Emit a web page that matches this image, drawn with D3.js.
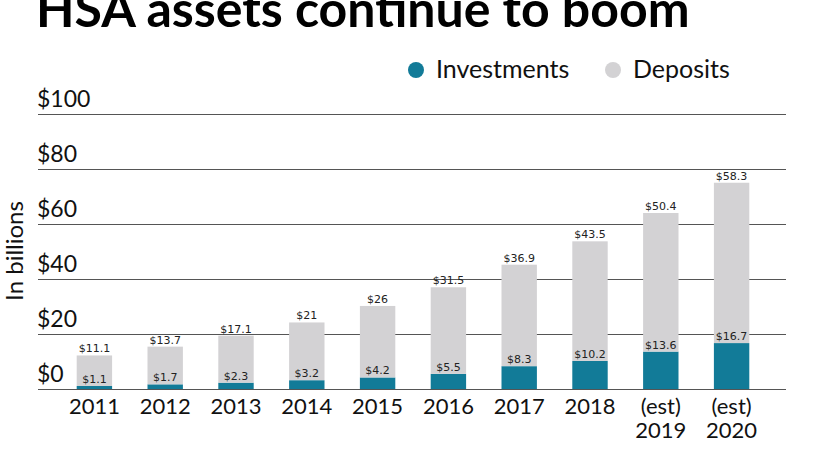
<!DOCTYPE html>
<html>
<head>
<meta charset="utf-8">
<script src="https://cdn.jsdelivr.net/npm/d3@7"></script>
<style>
    body { margin: 0; background: #fff; }
    svg { display: block; font-family: 'Lato', sans-serif; }
</style>
</head>
<body>
<div id="vis"></div>
<script>
const YEARS = ['2011', '2012', '2013', '2014', '2015', '2016', '2017', '2018', '2019', '2020']
const ESTIMATED = ['2019', '2020']
const INVESTMENTS = [1.1, 1.7, 2.3, 3.2, 4.2, 5.5, 8.3, 10.2, 13.6, 16.7]
const DEPOSITS = [11.1, 13.7, 17.1, 21, 26, 31.5, 36.9, 43.5, 50.4, 58.3]
const Y_TICKS = [0, 20, 40, 60, 80, 100]

const COLORS = {
    investments: '#127b98',
    deposits: '#d3d2d4'
}

function renderSvg() {
    return d3.select('#vis')
        .append('svg')
        .attr('width', 840)
        .attr('height', 450)
}

function renderChart(svg) {
    let data = YEARS.map((year, i) => ({
        year: year,
        investments: INVESTMENTS[i],
        deposits: DEPOSITS[i]
    }))

    let x = d3.scaleBand()
        .domain(YEARS)
        .range([59, 767])
        .paddingInner(0.5)
        .paddingOuter(0.25)

    let y = d3.scaleLinear()
        .domain([0, 100])
        .range([389, 114])

    // gridlines + labels sitting on top of them
    let grid = svg.append('g')
    grid.selectAll('line')
        .data(Y_TICKS)
        .enter().append('line')
        .attr('x1', 38)
        .attr('x2', 786)
        .attr('y1', d => y(d) + 0.5)
        .attr('y2', d => y(d) + 0.5)
        .attr('stroke', '#555')
        .attr('stroke-width', 1)

    grid.selectAll('text')
        .data(Y_TICKS)
        .enter().append('text')
        .attr('x', 37)
        .attr('y', d => y(d) - 7)
        .attr('font-size', 23)
        .attr('fill', '#111')
        .text(d => '$' + d)

    // stacked bars
    let stack = d3.stack().keys(['investments', 'deposits'])(data)

    svg.append('g')
        .selectAll('g')
        .data(stack)
        .enter().append('g')
        .attr('fill', d => COLORS[d.key])
        .selectAll('rect')
        .data(d => d)
        .enter().append('rect')
        .attr('x', d => x(d.data.year))
        .attr('width', x.bandwidth())
        .attr('y', d => y(d[1]))
        .attr('height', d => y(d[0]) - y(d[1]))

    // value labels
    let labels = svg.append('g')
        .attr('font-family', 'DejaVu Sans, sans-serif')
        .attr('font-size', 11)
        .attr('fill', '#222')
        .attr('text-anchor', 'middle')

    stack.forEach(layer => {
        labels.append('g')
            .selectAll('text')
            .data(layer)
            .enter().append('text')
            .attr('x', d => x(d.data.year) + x.bandwidth() / 2)
            .attr('y', d => y(d[1]) - 3)
            .text(d => '$' + d.data[layer.key])
    })

    // x labels
    let xLabels = svg.append('g')
        .attr('font-size', 22)
        .attr('fill', '#111')
        .attr('text-anchor', 'middle')
        .selectAll('text')
        .data(YEARS)
        .enter().append('text')
        .attr('x', d => x(d) + x.bandwidth() / 2)
        .attr('y', 414)

    xLabels.each(function (d) {
        let t = d3.select(this)
        if (ESTIMATED.includes(d)) {
            t.append('tspan').attr('x', x(d) + x.bandwidth() / 2).text('(est)')
            t.append('tspan').attr('x', x(d) + x.bandwidth() / 2).attr('dy', 24).text(d)
        } else {
            t.text(d)
        }
    })

    // y axis title
    svg.append('text')
        .attr('transform', 'translate(23, 251) rotate(-90)')
        .attr('text-anchor', 'middle')
        .attr('font-size', 24)
        .attr('fill', '#111')
        .text('In billions')

    // title
    svg.append('text')
        .attr('x', 36)
        .attr('y', 27)
        .attr('font-size', 50)
        .attr('font-weight', 'bold')
        .attr('fill', '#000')
        .text('HSA assets continue to boom')

    // legend
    let legendItems = [
        {label: 'Investments', color: COLORS.investments, x: 416},
        {label: 'Deposits', color: COLORS.deposits, x: 613}
    ]
    let legend = svg.append('g')
        .selectAll('g')
        .data(legendItems)
        .enter().append('g')
        .attr('transform', d => `translate(${d.x}, 70)`)

    legend.append('circle')
        .attr('r', 8)
        .attr('fill', d => d.color)

    legend.append('text')
        .attr('x', 20)
        .attr('y', 8)
        .attr('font-size', 25)
        .attr('fill', '#111')
        .text(d => d.label)

    // source, mostly cut off at the bottom
    svg.append('text')
        .attr('x', 36)
        .attr('y', 461)
        .attr('font-size', 15)
        .attr('fill', '#777')
        .text('Source: Devenir HSA Market Survey')
}

renderChart(renderSvg())
</script>
</body>
</html>
